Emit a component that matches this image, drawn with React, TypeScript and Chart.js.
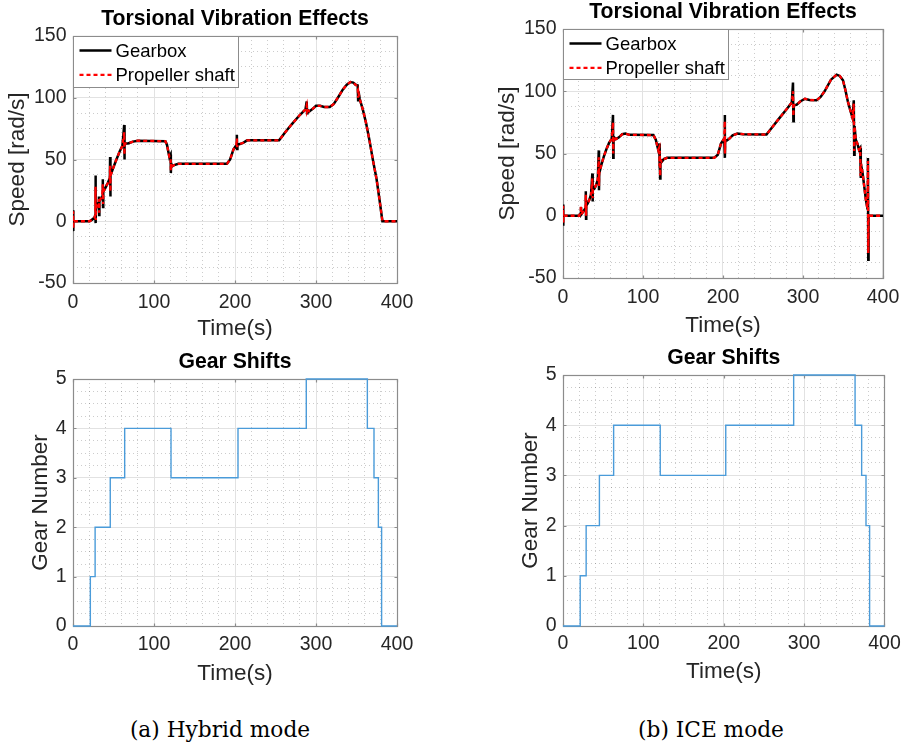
import React, { useEffect, useRef } from "react";
import { Chart, registerables } from "chart.js";

Chart.register(...registerables);

const FONT = "'Liberation Sans', Arial, Helvetica, sans-serif";

// ---- tick labels ----
const TIME_TICKS = [0, 100, 200, 300, 400];
const SPEED_TICKS = [-50, 0, 50, 100, 150];
const GEAR_TICKS = [0, 1, 2, 3, 4, 5];

// ---- (a) Hybrid mode: torsional vibration ----
const HYB_T = [
  0, 0.2, 0.4, 0.6, 20.5, 24, 26.5, 27.5, 27.8, 28.1, 28.4, 30, 31.5, 32, 32.3, 32.6, 34, 36,
  36.8, 37.1, 37.4, 40, 43, 45.5, 45.8, 46.1, 46.4, 49, 53, 57.6, 61, 63.2, 63.5, 63.8, 68, 74,
  80, 114, 116, 119, 120.5, 120.8, 121.2, 122.5, 125, 130, 190, 194, 198, 201.5, 202.3, 202.6,
  203, 206, 210, 215, 254.5, 262, 270, 280, 287, 288.5, 289, 289.5, 292, 296, 300, 305, 310,
  317, 322, 327, 333, 338, 342.5, 346, 349, 351.5, 352, 352.5, 354, 358, 362, 366, 370, 374.8,
  378.5, 382, 400,
];
const HYB_GEARBOX = [
  0, 9, -8, 0, 0, 1.5, 3, 5, 37, -1.5, 10, 14, 15, 20, 5, 16, 18, 20,
  34, 11.5, 24, 27, 31, 35, 52, 20, 37, 42, 49, 56.5, 61, 78, 50, 63, 63, 64.5,
  65.2, 64.8, 62, 52, 54, 39, 47, 44.5, 45.5, 46.5, 46.5, 50, 58, 61.5, 70, 58.5,
  62, 62.5, 63.5, 65.5, 65.5, 72, 78.5, 86, 90.5, 97, 87.5, 90, 89, 91, 93.5, 93.5, 92.5,
  92.5, 95, 100, 106.5, 110.5, 112.7, 112.3, 110.5, 110, 98, 105, 99, 90, 79, 65.5, 50.5, 34,
  17, 0, 0,
];
const HYB_PROP = [
  0, 8, -6, 0, 0, 1.5, 3, 5, 28, 1, 10, 14, 15, 18, 7, 16, 18, 21,
  30, 14, 24, 27, 31, 35, 45, 24, 37, 42, 49, 56.5, 61, 72, 54, 63, 63, 64.5,
  65.2, 64.8, 62, 52, 52, 41, 47, 44.5, 45.5, 46.5, 46.5, 50, 58, 61.5, 67, 60,
  62, 62.5, 63.5, 65.5, 65.5, 72, 78.5, 86, 90.5, 94, 89, 90, 89, 91, 93.5, 93.5, 92.5,
  92.5, 95, 100, 106.5, 110.5, 112.7, 112.3, 110.5, 109, 100, 104, 99, 90, 79, 65.5, 50.5, 34,
  17, 0, 0,
];

// ---- (b) ICE mode: torsional vibration ----
const ICE_T = [
  0, 0.2, 0.4, 0.6, 20.5, 22, 22.5, 22.8, 26, 28, 28.5, 28.8, 29.1, 31, 33, 35, 36.7, 37, 37.3,
  39, 41, 43.5, 44.7, 45, 45.3, 48, 51, 54, 57.6, 61, 62.5, 62.8, 63.2, 66, 70, 74, 78, 83,
  113, 116, 119, 120.4, 120.7, 121, 121.4, 121.8, 123.5, 126, 130, 189, 193.5, 197.5, 201.5,
  202.2, 202.5, 202.8, 205, 208, 212, 218, 225, 254.4, 262, 270, 280, 286, 287.5, 288, 288.5,
  292, 297, 302.5, 308, 316.9, 322, 327, 335, 342, 346, 350, 353, 356, 359, 362, 363.5, 364,
  364.5, 366, 368, 370, 371.5, 372, 372.5, 374.5, 376.5, 378.6, 380.5, 381.2, 381.6, 382, 400,
];
const ICE_GEARBOX = [
  0, 9, -8, 0, 0, 2, 7, 1, 4, 6, 19.6, -2.5, 8, 10, 13, 17, 34, 11.5, 21,
  21.5, 24, 29, 52.5, 20.5, 34, 41, 47.5, 53, 58.5, 62, 81, 46.5, 63.5, 61.5, 63, 65.5, 66, 65,
  64.8, 61, 53, 58, 38, 54, 30, 45, 43.5, 45.5, 46.5, 46.5, 49, 58, 62,
  81, 46.5, 61, 60.5, 62, 64.5, 66, 65.5, 65.2, 71.5, 78, 86, 91, 107, 76, 89,
  89.2, 92, 94, 93, 92.7, 95.5, 100, 109.3, 113.3, 112.3, 108.8, 101, 92, 85, 78.5, 92.7, 49,
  72, 61, 58, 53, 54.4, 30.3, 42, 34.3, 24, 13, 6, 46.4, -35.3, 0, 0,
];
const ICE_PROP = [
  0, 8, -6, 0, 0, 3, 8, 1, 4, 6, 17, 0, 8, 10, 13, 17, 30, 14, 21,
  21.5, 24, 29, 47, 24, 34, 41, 47.5, 53, 58.5, 62, 75, 50, 63.5, 61.5, 63, 65.5, 66, 65,
  64.8, 61, 53, 55, 40, 52, 32, 45, 43.5, 45.5, 46.5, 46.5, 49, 58, 62,
  76, 50, 61, 60.5, 62, 64.5, 66, 65.5, 65.2, 71.5, 78, 86, 91, 100, 80, 89,
  89.2, 92, 94, 93, 92.7, 95.5, 100, 109.3, 113.3, 112.3, 108.8, 101, 92, 85, 78.5, 90, 52,
  72, 61, 58, 53, 54, 32, 42, 34.3, 24, 13, 6, 44, -30, 0, 0,
];

// ---- gear shifts (time of change, new gear) ----
const HYB_SHIFT_T = [0, 21.4, 27.3, 46, 63.8, 121, 203.7, 288, 363.4, 371.6, 377, 381, 400];
const HYB_GEAR = [0, 1, 2, 3, 4, 3, 4, 5, 4, 3, 2, 0, 0];
const ICE_SHIFT_T = [0, 21.4, 28.8, 45.3, 63, 121, 202.5, 287, 363.4, 371.6, 377, 381.5, 400];
const ICE_GEAR = [0, 1, 2, 3, 4, 3, 4, 5, 4, 3, 2, 0, 0];

const toXY = (xs: number[], ys: number[]) => xs.map((x, i) => ({ x, y: ys[i] }));

const MAJOR_GRID = "#e2e2e2";
const MINOR_GRID = "rgba(0,0,0,0.2)";
const BOX_COLOR = "#8c8c8c";
const TEXT_COLOR = "#262626";

const TICK_SIZE = 19.5;
const LABEL_SIZE = 22.5;
const TITLE_SIZE = 21.2;

const insideLegend = {
  id: "insideLegend",
  afterDatasetsDraw(chart: any, _args: any, opts: any) {
    if (!opts || !opts.show) return;
    const { ctx, chartArea } = chart;
    const x = Math.round(chartArea.left) + 0.5;
    const y = Math.round(chartArea.top) + 0.5;
    ctx.save();
    ctx.fillStyle = "#ffffff";
    ctx.fillRect(x, y, opts.w, opts.h);
    ctx.strokeStyle = BOX_COLOR;
    ctx.lineWidth = 1;
    ctx.strokeRect(x, y, opts.w, opts.h);
    chart.data.datasets.forEach((ds: any, i: number) => {
      const ly = y + 14 + i * 24.3;
      ctx.beginPath();
      ctx.setLineDash(ds.borderDash || []);
      ctx.strokeStyle = ds.borderColor;
      ctx.lineWidth = ds.borderWidth;
      ctx.moveTo(x + 6, ly);
      ctx.lineTo(x + 38, ly);
      ctx.stroke();
      ctx.setLineDash([]);
      ctx.fillStyle = "#000";
      ctx.font = `18.5px ${FONT}`;
      ctx.textBaseline = "middle";
      ctx.textAlign = "left";
      ctx.fillText(ds.label, x + 42, ly + 1);
    });
    ctx.restore();
  },
};

const axesBox = {
  id: "axesBox",
  beforeDatasetsDraw(chart: any, _args: any, opts: any) {
    const { ctx, chartArea } = chart;
    const xs = chart.scales.x;
    const ys = chart.scales.y;
    const L = Math.round(chartArea.left) + 0.5;
    const R = Math.round(chartArea.right) + 0.5;
    const T = Math.round(chartArea.top) + 0.5;
    const B = Math.round(chartArea.bottom) + 0.5;
    ctx.save();
    ctx.strokeStyle = BOX_COLOR;
    ctx.lineWidth = 1.2;
    ctx.strokeRect(L, T, R - L, B - T);
    const len = 3;
    ctx.beginPath();
    (opts.xMajor as number[]).forEach((v) => {
      const px = Math.round(xs.getPixelForValue(v)) + 0.5;
      ctx.moveTo(px, B);
      ctx.lineTo(px, B - len);
      ctx.moveTo(px, T);
      ctx.lineTo(px, T + len);
    });
    (opts.yMajor as number[]).forEach((v) => {
      const py = Math.round(ys.getPixelForValue(v)) + 0.5;
      ctx.moveTo(L, py);
      ctx.lineTo(L + len, py);
      ctx.moveTo(R, py);
      ctx.lineTo(R - len, py);
    });
    ctx.stroke();
    ctx.restore();
  },
};

type Spec = {
  left: number;
  top: number;
  width: number;
  height: number;
  area: { l: number; t: number; r: number; b: number };
  title: string;
  titleY: number;
  yTitle: string;
  yTitleX: number;
  yTickRight: number;
  xTickY: number;
  xTitleY: number;
  yMin: number;
  yMax: number;
  yStep: number;
  yMajor: number[];
  datasets: any[];
  legend?: { w: number; h: number };
};

function buildConfig(s: Spec): any {
  const W = s.width;
  const H = s.height;
  const al = s.area.l - s.left;
  const at = s.area.t - s.top;
  const ar = s.area.r - s.left;
  const ab = s.area.b - s.top;
  const titlePadTop = s.titleY - s.top - TITLE_SIZE / 2;
  const isMajorX = (v: number) => TIME_TICKS.includes(v);
  const isMajorY = (v: number) => s.yMajor.includes(v);
  return {
    type: "line",
    data: { datasets: s.datasets },
    plugins: [axesBox, insideLegend],
    options: {
      animation: false,
      responsive: false,
      maintainAspectRatio: false,
      devicePixelRatio: 1,
      events: [],
      layout: { padding: { left: 0, top: 0, right: W - ar, bottom: 0 } },
      plugins: {
        legend: { display: false },
        tooltip: { enabled: false },
        title: {
          display: true,
          fullSize: false,
          text: s.title,
          color: "#000",
          font: { family: FONT, size: TITLE_SIZE, weight: "bold", lineHeight: 1 },
          padding: { top: titlePadTop, bottom: at - TITLE_SIZE - titlePadTop },
        },
        axesBox: { xMajor: TIME_TICKS, yMajor: s.yMajor },
        insideLegend: s.legend ? { show: true, w: s.legend.w, h: s.legend.h } : { show: false },
      },
      scales: {
        x: {
          type: "linear",
          min: 0,
          max: 400,
          afterFit: (sc: any) => {
            sc.height = H - ab;
          },
          ticks: {
            stepSize: 20,
            autoSkip: false,
            maxRotation: 0,
            minRotation: 0,
            padding: s.xTickY - s.area.b - TICK_SIZE / 2,
            color: TEXT_COLOR,
            font: { family: FONT, size: TICK_SIZE, lineHeight: 1 },
            callback: (v: number) => (isMajorX(v) ? String(v) : ""),
          },
          grid: {
            drawTicks: false,
            lineWidth: 1,
            color: (c: any) => (c.tick && isMajorX(c.tick.value) ? MAJOR_GRID : MINOR_GRID),
          },
          border: {
            display: false,
            dash: (c: any) => (c.tick && !isMajorX(c.tick.value) ? [1, 3] : []),
          },
          title: {
            display: true,
            text: "Time(s)",
            color: TEXT_COLOR,
            font: { family: FONT, size: LABEL_SIZE, lineHeight: 1 },
            padding: { top: 0, bottom: s.top + H - s.xTitleY - LABEL_SIZE / 2 },
          },
        },
        y: {
          type: "linear",
          min: s.yMin,
          max: s.yMax,
          afterFit: (sc: any) => {
            sc.width = al;
          },
          ticks: {
            stepSize: s.yStep,
            autoSkip: false,
            padding: s.area.l - s.yTickRight,
            color: TEXT_COLOR,
            font: { family: FONT, size: TICK_SIZE, lineHeight: 1 },
            callback: (v: number) => (isMajorY(v) ? String(v) : ""),
          },
          grid: {
            drawTicks: false,
            lineWidth: 1,
            color: (c: any) => (c.tick && isMajorY(c.tick.value) ? MAJOR_GRID : MINOR_GRID),
          },
          border: {
            display: false,
            dash: (c: any) => (c.tick && !isMajorY(c.tick.value) ? [1, 3] : []),
          },
          title: {
            display: true,
            text: s.yTitle,
            color: TEXT_COLOR,
            font: { family: FONT, size: LABEL_SIZE, lineHeight: 1 },
            padding: { top: s.yTitleX - s.left - LABEL_SIZE / 2, bottom: 0 },
          },
        },
      },
    },
  };
}

function Panel({ spec }: { spec: Spec }) {
  const ref = useRef<HTMLCanvasElement | null>(null);
  useEffect(() => {
    if (!ref.current) return;
    const chart = new Chart(ref.current, buildConfig(spec));
    return () => chart.destroy();
  }, []);
  return (
    <canvas
      ref={ref}
      width={spec.width}
      height={spec.height}
      style={{
        position: "absolute",
        left: spec.left,
        top: spec.top,
        width: spec.width,
        height: spec.height,
        display: "block",
      }}
    />
  );
}

const speedSets = (t: number[], gb: number[], pr: number[]) => [
  {
    label: "Gearbox",
    data: toXY(t, gb),
    borderColor: "#000000",
    borderWidth: 2.5,
    pointRadius: 0,
    tension: 0,
    order: 2,
  },
  {
    label: "Propeller shaft",
    data: toXY(t, pr),
    borderColor: "#ff0000",
    borderWidth: 2.3,
    borderDash: [4, 3],
    pointRadius: 0,
    tension: 0,
    order: 1,
  },
];

const gearSets = (t: number[], g: number[]) => [
  {
    label: "Gear",
    data: toXY(t, g),
    borderColor: "#4a9bd9",
    borderWidth: 1.4,
    pointRadius: 0,
    stepped: "before",
    tension: 0,
    clip: 3,
  },
];

const SPECS: Spec[] = [
  {
    left: 0, top: 0, width: 470, height: 345,
    area: { l: 73, t: 36, r: 397, b: 283 },
    title: "Torsional Vibration Effects", titleY: 19,
    yTitle: "Speed [rad/s]", yTitleX: 18, yTickRight: 66.5,
    xTickY: 302.5, xTitleY: 329,
    yMin: -50, yMax: 150, yStep: 12.5, yMajor: SPEED_TICKS,
    datasets: speedSets(HYB_T, HYB_GEARBOX, HYB_PROP),
    legend: { w: 165, h: 51 },
  },
  {
    left: 470, top: 0, width: 439, height: 345,
    area: { l: 563, t: 29, r: 887, b: 278 },
    title: "Torsional Vibration Effects", titleY: 11.7,
    yTitle: "Speed [rad/s]", yTitleX: 507.8, yTickRight: 556.5,
    xTickY: 297.5, xTitleY: 325.8,
    yMin: -50, yMax: 150, yStep: 12.5, yMajor: SPEED_TICKS,
    datasets: speedSets(ICE_T, ICE_GEARBOX, ICE_PROP),
    legend: { w: 165, h: 50 },
  },
  {
    left: 0, top: 340, width: 470, height: 360,
    area: { l: 73, t: 379, r: 397, b: 626 },
    title: "Gear Shifts", titleY: 361.7,
    yTitle: "Gear Number", yTitleX: 40.8, yTickRight: 66.7,
    xTickY: 645, xTitleY: 674,
    yMin: 0, yMax: 5, yStep: 0.25, yMajor: GEAR_TICKS,
    datasets: gearSets(HYB_SHIFT_T, HYB_GEAR),
  },
  {
    left: 470, top: 340, width: 439, height: 360,
    area: { l: 563, t: 375, r: 887, b: 626 },
    title: "Gear Shifts", titleY: 357.8,
    yTitle: "Gear Number", yTitleX: 530.8, yTickRight: 556.7,
    xTickY: 644, xTitleY: 672,
    yMin: 0, yMax: 5, yStep: 0.25, yMajor: GEAR_TICKS,
    datasets: gearSets(ICE_SHIFT_T, ICE_GEAR),
  },
];

const CAPTIONS = [
  { text: "(a) Hybrid mode", cx: 220 },
  { text: "(b) ICE mode", cx: 711 },
];

export default function App() {
  return (
    <div
      style={{
        position: "absolute",
        left: 0,
        top: 0,
        width: 909,
        height: 747,
        background: "#ffffff",
        overflow: "hidden",
      }}
    >
      {SPECS.map((s, i) => (
        <Panel key={i} spec={s} />
      ))}
      {CAPTIONS.map((c, i) => (
        <div
          key={"c" + i}
          style={{
            position: "absolute",
            left: c.cx - 150,
            width: 300,
            top: 718,
            textAlign: "center",
            fontFamily: "'DejaVu Serif', 'Liberation Serif', serif",
            fontSize: 21.7,
            lineHeight: "24px",
            color: "#000",
            whiteSpace: "nowrap",
          }}
        >
          {c.text}
        </div>
      ))}
    </div>
  );
}
